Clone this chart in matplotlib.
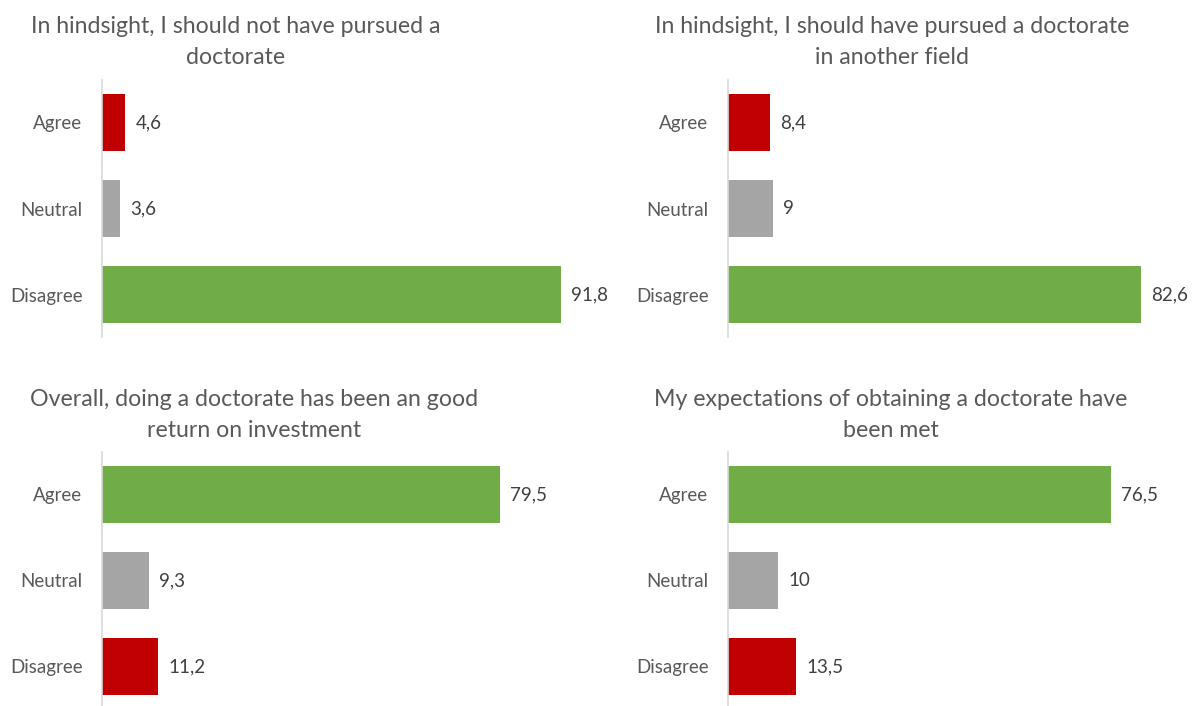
import matplotlib.pyplot as plt

plt.rcParams['font.family'] = ['Lato', 'DejaVu Sans']

W, H = 1195, 706

categories_a = ['Agree', 'Neutral', 'Disagree']
values_tl = [4.6, 3.6, 91.8]
values_tr = [8.4, 9.0, 82.6]
values_bl = [79.5, 9.3, 11.2]
values_br = [76.5, 10.0, 13.5]
labels_tl = ['4,6', '3,6', '91,8']
labels_tr = ['8,4', '9', '82,6']
labels_bl = ['79,5', '9,3', '11,2']
labels_br = ['76,5', '10', '13,5']
titles = ['In hindsight, I should not have pursued a\ndoctorate',
          'In hindsight, I should have pursued a doctorate\nin another field',
          'Overall, doing a doctorate has been an good\nreturn on investment',
          'My expectations of obtaining a doctorate have\nbeen met']

RED, GREY, GREEN = '#C00000', '#A5A5A5', '#70AD47'
colors_top = [RED, GREY, GREEN]
colors_bot = [GREEN, GREY, RED]

fig = plt.figure(figsize=(W / 100, H / 100), dpi=100)


def panel(left, top, bottom, ylim, vals, labs, cols):
    ax = fig.add_axes([left / W, 1 - bottom / H, 460 / W, (bottom - top) / H])
    ax.barh(range(3), vals, height=0.66, color=cols)
    ax.set_xlim(0, 92)
    ax.set_ylim(*ylim)
    ax.set_yticks(range(3))
    ax.set_yticklabels(categories_a, fontsize=13.5, color='#595959')
    ax.tick_params(axis='y', length=0, pad=14)
    ax.set_xticks([])
    for s in ['top', 'right', 'bottom']:
        ax.spines[s].set_visible(False)
    ax.spines['left'].set_color('#D9D9D9')
    ax.spines['left'].set_linewidth(1.2)
    for i, (v, t) in enumerate(zip(vals, labs)):
        ax.text(v + 2.1, i, t, va='center', ha='left', fontsize=13.5, color='#404040')
    return ax


top_ylim = (2.494, -0.494)
bot_ylim = (2.46, -0.494)
panel(102, 80, 337, top_ylim, values_tl, labels_tl, colors_top)
panel(728, 80, 337, top_ylim, values_tr, labels_tr, colors_top)
panel(102, 452, 706, bot_ylim, values_bl, labels_bl, colors_bot)
panel(728, 452, 706, bot_ylim, values_br, labels_br, colors_bot)

tc = '#595959'
title_pos = [(236, 42), (892, 42), (254, 415), (891, 415)]
for (x, y), t in zip(title_pos, titles):
    fig.text(x / W, 1 - y / H, t, ha='center', va='center', fontsize=16.7,
             color=tc, linespacing=1.55, multialignment='center')

fig.savefig('out.png', dpi=100)
